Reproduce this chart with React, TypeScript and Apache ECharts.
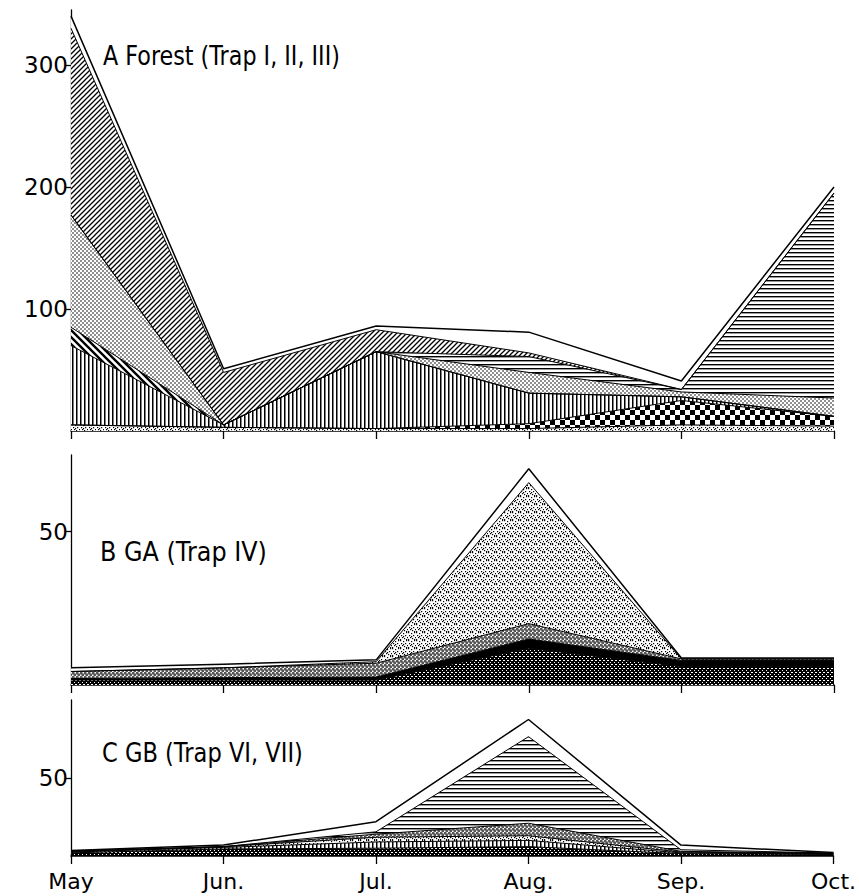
import React, { useEffect, useRef } from 'react';
import * as echarts from 'echarts';

const months = ['May', 'Jun.', 'Jul.', 'Aug.', 'Sep.', 'Oct.'];

// Panel A – Forest (Trap I, II, III), stacked from bottom to top
const aStipple = [5, 3, 2, 2, 5, 4];
const aChecker = [0, 0, 0, 4, 20, 8];
const aVertical = [65, 2, 63, 25, 3, 0];
const aBand = [15, 0, 0, 0, 0, 0];
const aDotted = [92, 0, 0, 17, 4, 15];
const aHorizontal = [0, 0, 0, 13, 2, 168];
const aHatch = [153, 43, 18, 3, 0, 0];
const aTop = [10, 3, 3, 17, 7, 5];

// Panel B – GA (Trap IV)
const bDark = [1.6, 1.6, 1.6, 12, 6, 6];
const bBlack = [0.5, 0.8, 1, 3, 2, 2];
const bCoarse = [2.3, 3.2, 4.5, 5, 0.5, 0.5];
const bStipple = [0, 0, 0.5, 46, 0, 0];
const bTop = [1.2, 1.2, 0.6, 4.5, 0.3, 0.3];

// Panel C – GB (Trap VI, VII)
const cDark = [2, 4.5, 5, 6, 1.5, 1];
const cVertical = [0.5, 1, 4, 4, 0.5, 0.2];
const cStipple = [0.5, 0.5, 3, 3, 0.5, 0.3];
const cCoarse = [0, 0, 2, 8, 0.5, 0.2];
const cHorizontal = [0, 0, 1.5, 55.5, 1, 0.2];
const cTop = [0.5, 1, 6.5, 11, 3, 0.3];

// Axis ticks
const aTicks = [100, 200, 300];
const bTicks = [50];
const cTicks = [50];

const titleA = 'A Forest (Trap I, II, III)';
const titleB = 'B GA (Trap IV)';
const titleC = 'C GB (Trap VI, VII)';

const FONT = "'DejaVu Sans', 'Liberation Sans', sans-serif";

function makePattern(size: number, draw: (ctx: CanvasRenderingContext2D, s: number) => void, bg = '#fff') {
  const c = document.createElement('canvas');
  c.width = size;
  c.height = size;
  const ctx = c.getContext('2d')!;
  ctx.fillStyle = bg;
  ctx.fillRect(0, 0, size, size);
  ctx.fillStyle = '#000';
  ctx.strokeStyle = '#000';
  draw(ctx, size);
  return { image: c.toDataURL(), repeat: 'repeat', imageWidth: size, imageHeight: size };
}

function buildPatterns() {
  const vertical = makePattern(4, (ctx) => ctx.fillRect(0, 0, 1.5, 4));
  const horizontal = makePattern(4, (ctx) => ctx.fillRect(0, 0, 4, 1.4));
  const hatch = makePattern(5, (ctx, s) => {
    ctx.lineWidth = 1.3;
    ctx.beginPath();
    ctx.moveTo(-1, s + 1); ctx.lineTo(s + 1, -1);
    ctx.moveTo(-1, 1); ctx.lineTo(1, -1);
    ctx.moveTo(s - 1, s + 1); ctx.lineTo(s + 1, s - 1);
    ctx.stroke();
  });
  const band = makePattern(7, (ctx, s) => {
    ctx.lineWidth = 2.4;
    ctx.beginPath();
    ctx.moveTo(-1, -1); ctx.lineTo(s + 1, s + 1);
    ctx.moveTo(-1, s - 1); ctx.lineTo(1, s + 1);
    ctx.moveTo(s - 1, -1); ctx.lineTo(s + 1, 1);
    ctx.stroke();
  });
  const checker = makePattern(10, (ctx) => {
    ctx.fillRect(0, 0, 5, 5);
    ctx.fillRect(5, 5, 5, 5);
  });
  const dots = makePattern(4, (ctx) => {
    ctx.beginPath(); ctx.arc(1, 1, 0.8, 0, Math.PI * 2); ctx.fill();
    ctx.beginPath(); ctx.arc(3, 3, 0.8, 0, Math.PI * 2); ctx.fill();
  });
  const coarse = makePattern(4, (ctx) => {
    ctx.lineWidth = 0.9;
    ctx.beginPath(); ctx.arc(1, 1, 1.1, 0, Math.PI * 2); ctx.stroke();
    ctx.beginPath(); ctx.arc(3, 3, 1.1, 0, Math.PI * 2); ctx.stroke();
  });
  const stipplePts = [[0, 0], [3, 1], [6, 0], [1, 3], [5, 3], [2, 5], [7, 5], [4, 6], [0, 7], [6, 7], [3, 4]];
  const stipple = makePattern(8, (ctx) => {
    stipplePts.forEach(([x, y]) => ctx.fillRect(x, y, 1.2, 1.2));
  });
  const dark = makePattern(4, (ctx) => {
    ctx.fillStyle = '#fff';
    ctx.fillRect(0, 0, 1, 1);
    ctx.fillRect(2, 2, 1, 1);
    ctx.fillRect(3, 0, 1, 1);
  }, '#000');
  return { vertical, horizontal, hatch, band, checker, dots, coarse, stipple, dark };
}

function area(name: string, data: number[], fill: any, gi: number, lineWidth = 1) {
  return {
    type: 'line',
    name,
    data,
    xAxisIndex: gi,
    yAxisIndex: gi,
    stack: 'panel' + gi,
    symbol: 'none',
    showSymbol: false,
    silent: true,
    lineStyle: { color: '#000', width: lineWidth },
    itemStyle: { color: '#000' },
    areaStyle: { color: fill, opacity: 1 },
    emphasis: { disabled: true },
  };
}

function xAxis(gi: number, showLabel: boolean) {
  return {
    type: 'category',
    gridIndex: gi,
    data: months,
    boundaryGap: false,
    axisLine: { show: true, lineStyle: { color: '#000', width: 1.5 } },
    axisTick: { show: true, length: 8, lineStyle: { color: '#000', width: 1.3 } },
    axisLabel: { show: showLabel, color: '#000', fontSize: 22, fontFamily: FONT, margin: 14 },
    splitLine: { show: false },
  };
}

function yAxis(gi: number, max: number, ticks: number[]) {
  return {
    type: 'value',
    gridIndex: gi,
    min: 0,
    max,
    axisLine: { show: true, lineStyle: { color: '#000', width: 1.3 } },
    axisTick: { show: true, length: 5, customValues: ticks, lineStyle: { color: '#000', width: 1.3 } },
    axisLabel: { show: true, customValues: ticks, color: '#000', fontSize: 23, fontFamily: FONT, margin: 3 },
    splitLine: { show: false },
  };
}

function fitScale(text: string, size: number, target: number) {
  const c = document.createElement('canvas');
  const ctx = c.getContext('2d')!;
  ctx.font = `${size}px ${FONT}`;
  const w = ctx.measureText(text).width;
  return w > 0 ? target / w : 1;
}

function title(text: string, x: number, y: number, size: number, target: number) {
  return {
    type: 'text',
    x,
    y,
    scaleX: fitScale(text, size, target),
    silent: true,
    style: {
      text,
      fill: '#000',
      fontSize: size,
      fontFamily: FONT,
      verticalAlign: 'middle',
      textVerticalAlign: 'middle',
    },
  };
}

export default function App() {
  const ref = useRef<HTMLDivElement>(null);
  useEffect(() => {
    if (!ref.current) return;
    const chart = echarts.init(ref.current, null, { renderer: 'svg' });
    const p = buildPatterns();
    chart.setOption({
      animation: false,
      backgroundColor: '#fff',
      grid: [
        { left: 71, right: 25, top: 10, height: 421 },
        { left: 71, right: 25, top: 455, height: 230 },
        { left: 71, right: 25, top: 700, height: 156 },
      ],
      xAxis: [xAxis(0, false), xAxis(1, false), xAxis(2, true)],
      yAxis: [yAxis(0, 345, aTicks), yAxis(1, 75, bTicks), yAxis(2, 100, cTicks)],
      graphic: [
        title(titleA, 103, 56, 26, 237),
        title(titleB, 100, 551, 27, 167),
        title(titleC, 102, 753, 27, 201),
      ],
      series: [
        area('A stipple', aStipple, p.stipple, 0),
        area('A checkered', aChecker, p.checker, 0),
        area('A vertical', aVertical, p.vertical, 0),
        area('A band', aBand, p.band, 0),
        area('A dotted', aDotted, p.dots, 0),
        area('A horizontal', aHorizontal, p.horizontal, 0),
        area('A hatched', aHatch, p.hatch, 0),
        area('A top', aTop, '#fff', 0, 1.5),

        area('B dark', bDark, p.dark, 1),
        area('B black', bBlack, '#000', 1),
        area('B coarse', bCoarse, p.coarse, 1),
        area('B stipple', bStipple, p.stipple, 1),
        area('B top', bTop, '#fff', 1, 1.5),

        area('C dark', cDark, p.dark, 2),
        area('C vertical', cVertical, p.vertical, 2),
        area('C stipple', cStipple, p.stipple, 2),
        area('C coarse', cCoarse, p.coarse, 2),
        area('C horizontal', cHorizontal, p.horizontal, 2),
        area('C top', cTop, '#fff', 2, 1.5),
      ],
    });
    return () => chart.dispose();
  }, []);
  return (
    <div
      ref={ref}
      style={{ position: 'absolute', left: 0, top: 0, width: 859, height: 896, background: '#fff' }}
    />
  );
}
